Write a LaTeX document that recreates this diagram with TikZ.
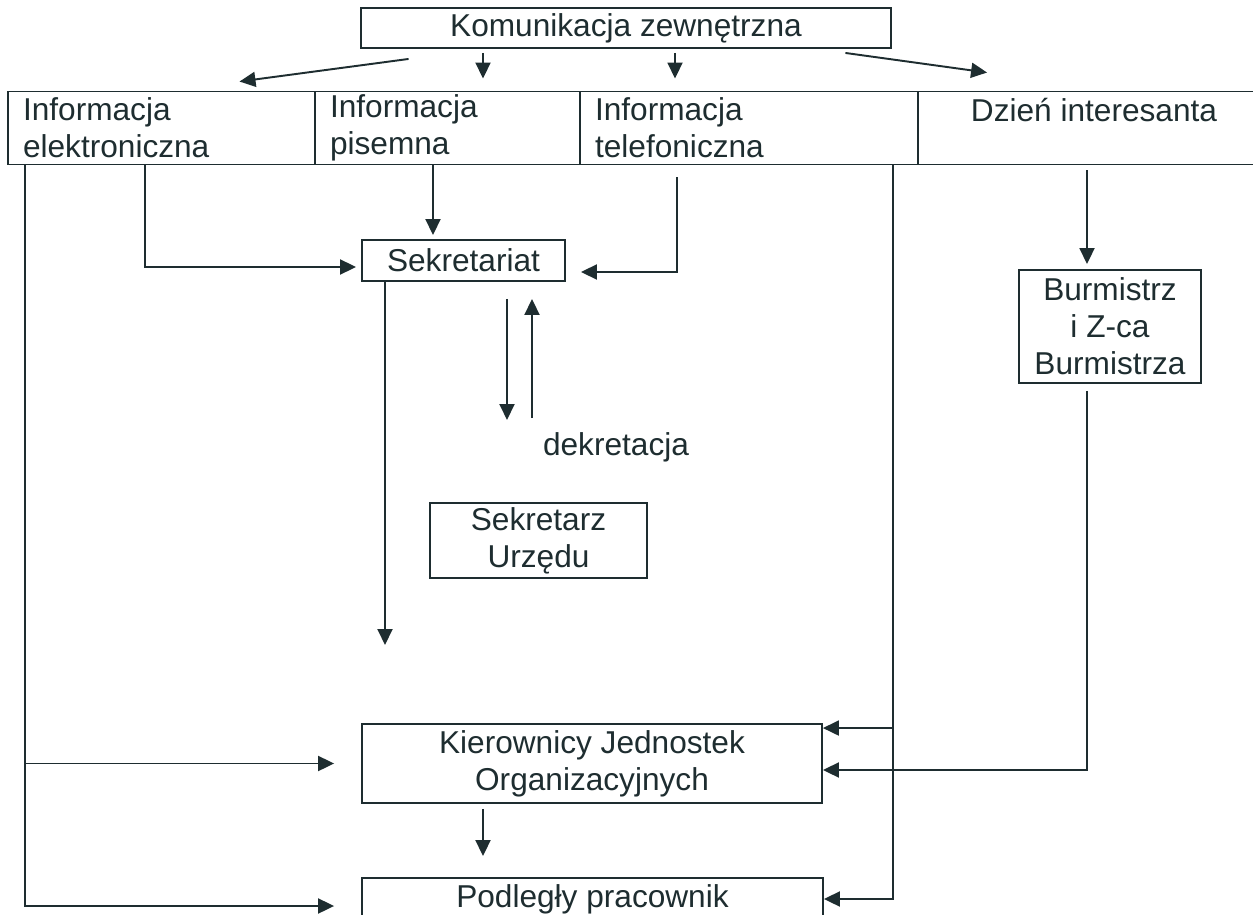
\documentclass[tikz,border=0pt]{standalone}
\usepackage{fontspec}
\setmainfont{Liberation Sans}
\usepackage{tikz}
\usetikzlibrary{arrows.meta, positioning, calc}
\definecolor{ink}{RGB}{30,45,48}

\begin{document}
\begin{tikzpicture}[
   x=0.02cm, y=-0.02cm,
   font=\fontsize{18}{21}\selectfont, text=ink,
   box/.style={draw=ink, line width=1.1pt, align=center, inner sep=0pt},
   cell/.style={draw=ink, line width=1.1pt, minimum height=1.46cm,
                inner xsep=0.3cm, inner ysep=0pt, align=left},
   arr/.style={-{Triangle[length=3.2mm, width=3mm]}, draw=ink, line width=1.1pt}]

  \useasboundingbox (0,0) rectangle (1253,915);
  \clip (0,0) rectangle (1253,915);

  \node[box, minimum width=10.62cm, minimum height=0.8cm] (kz) at (626,28) {Komunikacja zewnętrzna};

  % row of information channels
  \node[cell, text width=5.54cm] (ie) at (161.5,128) {Informacja\\elektroniczna};
  \node[cell, text width=4.7cm] (ip) at (447.5,128) {Informacja\\pisemna};
  \node[cell, text width=6.16cm] (it) at (749,128) {Informacja\\telefoniczna};
  \node[draw=ink, line width=1.1pt, inner sep=0pt, minimum width=7.04cm,
        text height=0.6cm, text depth=0.86cm, xshift=-0.12cm] (di) at (1100,128) {Dzień interesanta};

  \node[box, minimum width=4.06cm, minimum height=0.82cm] (sek) at (463.5,260.5) {Sekretariat};
  \node[box, minimum width=3.64cm, minimum height=2.26cm] (bur) at (1110,326.5) {Burmistrz\\i Z-ca\\Burmistrza};
  \node (dek) at (616,447) {dekretacja};
  \node[box, minimum width=4.34cm, minimum height=1.5cm] (su) at (538.5,540.5) {Sekretarz\\Urzędu};
  \node[box, minimum width=9.2cm, minimum height=1.58cm] (kjo) at (592,763.5) {Kierownicy Jednostek\\Organizacyjnych};
  \node[box, minimum width=9.22cm, minimum height=0.84cm] (pp) at (592.5,899) {Podległy pracownik};

  \coordinate (s1) at (385,645);
  \coordinate (d1) at (507,420);
  \coordinate (d2) at (532,418);

  % from Komunikacja zewnetrzna
  \draw[arr] ($(kz.south west)+(49,10)$) -- ($(ie.north)+(78,-9)$);
  \draw[arr, shorten <=0.08cm, shorten >=0.24cm] (kz.south -| 483,0) -- (ip.north -| 483,0);
  \draw[arr, shorten <=0.08cm, shorten >=0.24cm] (kz.south -| 675,0) -- (it.north -| 675,0);
  \draw[arr] ($(kz.south east)+(-47,4)$) -- ($(di.north west)+(70,-18)$);

  % left trunk
  \draw[arr, shorten >=0.54cm] (ie.south -| 25,0) |- ([yshift=-0.14cm]pp.west);
  \draw[arr, shorten >=0.54cm] (kjo.west -| 25,0) -- (kjo.west);

  % into Sekretariat
  \draw[arr, shorten >=0.1cm] (ie.south -| 145,0) |- ([yshift=-0.13cm]sek.west);
  \draw[arr, shorten >=0.08cm] (ip.south -| 433,0) -- (sek.north -| 433,0);
  \draw[arr, shorten <=0.24cm, shorten >=0.3cm] (it.south -| 677,0) |- ([yshift=-0.23cm]sek.east);

  \draw[arr] (sek.south -| 385,0) -- (s1);
  \draw[arr, shorten <=0.34cm] (sek.south -| 507,0) -- (d1);
  \draw[arr, shorten >=0.34cm] (d2) -- (sek.south -| 532,0);

  % right trunk
  \draw[arr] (it.south -| 893,0) |- (pp.east);
  \draw[arr] ($(kjo.north east)+(71,5)$) -- ($(kjo.north east)+(0,5)$);

  % Dzien interesanta
  \draw[arr, shorten <=0.1cm, shorten >=0.1cm] (di.south -| 1087,0) -- (bur.north -| 1087,0);
  \draw[arr, shorten <=0.14cm] (bur.south -| 1087,0) |- ([yshift=-0.13cm]kjo.east);

  \draw[arr, shorten <=0.1cm, shorten >=0.42cm] (kjo.south -| 483,0) -- (pp.north -| 483,0);
\end{tikzpicture}
\end{document}
